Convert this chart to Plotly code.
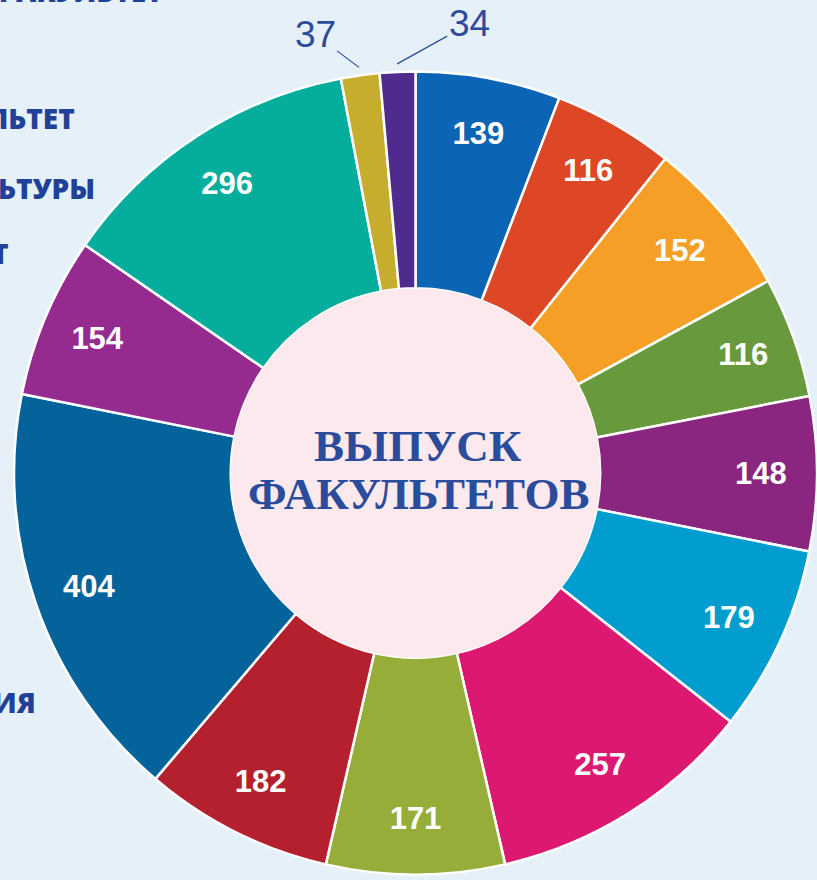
import math
import plotly.graph_objects as go

# ---- data ----
values = [139, 116, 152, 116, 148, 179, 257, 171, 182, 404, 154, 296, 37, 34]
colors = ["#0b64b4", "#dd4725", "#f59f27", "#689a3d", "#8a2580", "#029dcf",
          "#dc1870", "#97ad39", "#b5202e", "#05639b", "#952b8f", "#05ae9c",
          "#c6ad2d", "#4f2b8e"]
inside_text_pos = ["inside"] * 12 + ["none", "none"]
outside_idx = [12, 13]
title_lines = ["ВЫПУСК", "ФАКУЛЬТЕТОВ"]
side_texts = ["ФАКУЛЬТЕТ", "ЛЬТЕТ", "ЬТУРЫ", "Т", "ИЯ"]

# ---- layout geometry (pixels) ----
W, H = 817, 880
CX, CY, R = 415.5, 473.0, 401.5
HOLE = 0.46
BG = "#e6f0f9"
PINK = "#fbe9ed"
DARK = "#2b4c9b"
LEGEND_BLUE = "#1f4196"

def dom(cx, cy, r):
    return dict(x=[max(0.0, (cx - r) / W), min(1.0, (cx + r) / W)],
                y=[max(0.0, 1 - (cy + r) / H), min(1.0, 1 - (cy - r) / H)])

main_dom = dom(CX, CY, R)

fig = go.Figure()

# main donut
fig.add_trace(go.Pie(
    values=values, sort=False, direction="clockwise", rotation=0,
    hole=HOLE, domain=main_dom,
    marker=dict(colors=colors, line=dict(color="white", width=2.5)),
    textinfo="none", hoverinfo="value", showlegend=False,
))

# pink centre disc
fig.add_trace(go.Pie(
    values=[1], domain=dom(CX, CY, R * HOLE), hole=0,
    marker=dict(colors=[PINK], line=dict(width=0)),
    textinfo="none", hoverinfo="skip", showlegend=False, sort=False,
))

# text overlay (same slices, narrower ring so labels sit near the outer rim)
fig.add_trace(go.Pie(
    values=values, sort=False, direction="clockwise", rotation=0,
    hole=0.72, domain=main_dom,
    marker=dict(colors=["rgba(0,0,0,0)"] * len(values), line=dict(width=0)),
    textinfo="value", textposition=inside_text_pos,
    insidetextorientation="horizontal",
    insidetextfont=dict(family="Liberation Sans", size=31, color="white", weight="bold"),
    hoverinfo="skip", showlegend=False,
))

annotations = []
# centre title
annotations.append(dict(text=title_lines[0], x=418 / W, y=1 - 446 / H, xref="paper", yref="paper",
                        showarrow=False, font=dict(family="Liberation Serif", size=45, color=DARK, weight="bold")))
annotations.append(dict(text=title_lines[1], x=419 / W, y=1 - 494 / H, xref="paper", yref="paper",
                        showarrow=False, font=dict(family="Liberation Serif", size=45, color=DARK, weight="bold")))

# outside labels for tiny slices, pointing at slice mid-angles
total = sum(values)
cum = 0
mids = []
for v in values:
    mids.append(2 * math.pi * (cum + v / 2) / total)
    cum += v
offsets = {12: (-44, -33), 13: (72, -40)}
for i in outside_idx:
    th = mids[i]
    rt = R * 1.02
    px = CX + rt * math.sin(th)
    py = CY - rt * math.cos(th)
    ax, ay = offsets[i]
    annotations.append(dict(text=str(values[i]), x=px / W, y=1 - py / H, xref="paper", yref="paper",
                            showarrow=True, arrowhead=0, arrowwidth=1.2, arrowcolor=DARK,
                            ax=ax, ay=ay, standoff=0,
                            font=dict(family="Liberation Sans", size=37, color=DARK)))

# cropped legend fragments on the left
frag_pos = [(165, -9), (77, 118), (97, 188), (11, 253), (38, 702)]
for t, (rx, cy) in zip(side_texts, frag_pos):
    annotations.append(dict(text=t, x=rx / W, y=1 - cy / H, xref="paper", yref="paper",
                            xanchor="right", yanchor="middle", showarrow=False,
                            font=dict(family="Open Sans", size=28, color=LEGEND_BLUE, weight=800)))

fig.update_layout(
    width=W, height=H, margin=dict(l=0, r=0, t=0, b=0),
    paper_bgcolor=BG, plot_bgcolor=BG,
    annotations=annotations, showlegend=False,
)

fig.write_html("out.html", config={"displayModeBar": False},
               post_script="document.body.style.margin='0';document.body.style.overflow='hidden';")
